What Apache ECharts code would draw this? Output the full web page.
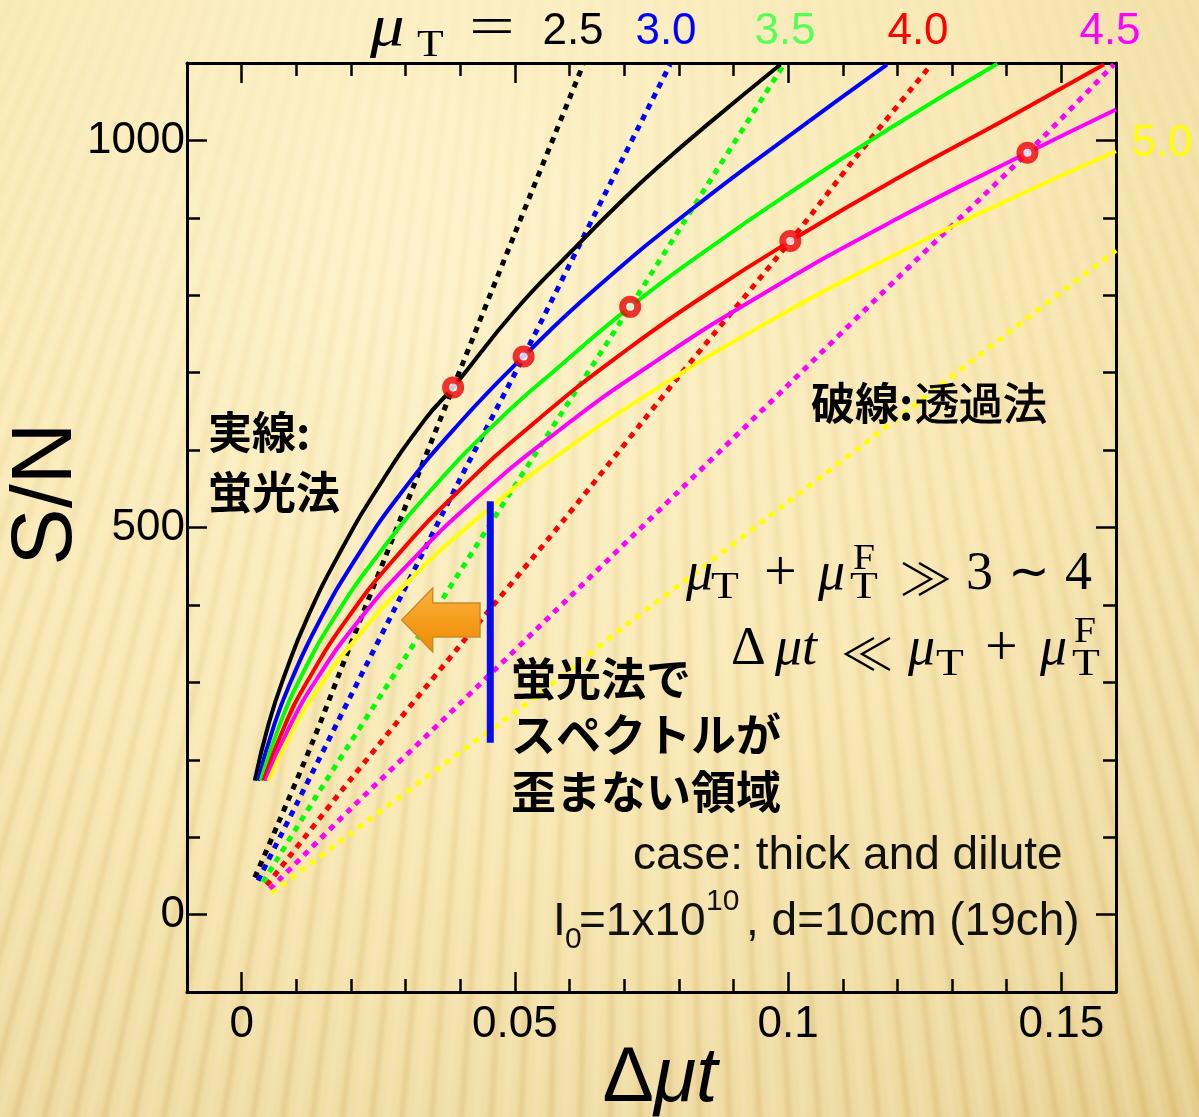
<!DOCTYPE html>
<html><head><meta charset="utf-8">
<script src="https://cdn.jsdelivr.net/npm/echarts@6/dist/echarts.min.js"></script>
<style>html,body{margin:0;padding:0;background:#f6e6b0;} #c{width:1199px;height:1117px;}</style>
</head><body><div id="c"></div>
<script>
// ---------- data ----------
const muLabels = ['2.5', '3.0', '3.5', '4.0', '4.5', '5.0'];
const lineColors = ['#000000', '#0000ff', '#00ff00', '#ff0000', '#ff00ff', '#ffff00'];
const labelColors = ['#000000', '#0000ff', '#55ff55', '#ff0000', '#ff00ff', '#ffff00'];

// fluorescence method (solid lines)
const fluo25X = [0.0024, 0.005, 0.008, 0.012, 0.018, 0.025, 0.0336, 0.0387, 0.05, 0.0601, 0.07, 0.0766, 0.0855, 0.0986];
const fluo25Y = [173, 248, 312, 383, 468, 552, 640, 681, 780, 855, 925, 968, 1022, 1098];
const fluo30X = [0.0030, 0.006, 0.009, 0.014, 0.021, 0.029, 0.04, 0.0516, 0.065, 0.0827, 0.1, 0.1181];
const fluo30Y = [173, 246, 301, 376, 461, 543, 636, 721, 810, 913, 1005, 1098];
const fluo35X = [0.0035, 0.007, 0.011, 0.017, 0.025, 0.035, 0.0468, 0.0583, 0.0711, 0.085, 0.1, 0.1187, 0.1383];
const fluo35Y = [173, 246, 309, 384, 465, 551, 637, 709, 785, 858, 931, 1016, 1099];
const fluo40X = [0.0040, 0.008, 0.012, 0.019, 0.028, 0.04, 0.054, 0.07, 0.085, 0.1004, 0.12, 0.14, 0.1578];
const fluo40Y = [173, 246, 301, 379, 460, 549, 638, 727, 801, 870, 951, 1028, 1098];
const fluo45X = [0.0044, 0.009, 0.014, 0.021, 0.03, 0.043, 0.058, 0.075, 0.095, 0.12, 0.1438, 0.16];
const fluo45Y = [173, 246, 307, 376, 449, 538, 625, 711, 800, 899, 984, 1040];
const fluo50X = [0.0049, 0.009, 0.014, 0.021, 0.03, 0.043, 0.058, 0.075, 0.095, 0.12, 0.14, 0.16];
const fluo50Y = [173, 234, 292, 357, 427, 511, 594, 675, 760, 854, 922, 986];

// transmission method (dotted lines)
const trans25X = [0.0024, 0.0064, 0.0131, 0.0200, 0.0290, 0.0387, 0.0500, 0.0625];
const trans25Y = [48, 113, 225, 350, 510, 681, 880, 1098];
const trans30X = [0.0030, 0.0100, 0.0200, 0.0300, 0.0400, 0.0516, 0.0650, 0.0784];
const trans30Y = [44, 142, 283, 423, 563, 721, 910, 1098];
const trans35X = [0.0039, 0.015, 0.030, 0.045, 0.0583, 0.0711, 0.085, 0.0992];
const trans35Y = [42, 168, 333, 499, 645, 785, 940, 1098];
const trans40X = [0.0046, 0.020, 0.040, 0.0583, 0.080, 0.1004, 0.1126, 0.1262];
const trans40Y = [38, 175, 348, 504, 695, 870, 980, 1098];
const trans45X = [0.0052, 0.020, 0.040, 0.060, 0.080, 0.100, 0.120, 0.1438, 0.1596];
const trans45Y = [33, 137, 273, 410, 547, 684, 822, 984, 1098];
const trans50X = [0.0055, 0.020, 0.040, 0.0528, 0.070, 0.0839, 0.100, 0.120, 0.140, 0.160];
const trans50Y = [28, 105, 210, 276, 372, 446, 533, 641, 750, 858];

// crossing points (markers)
const crossX = [0.0387, 0.0516, 0.0711, 0.1004, 0.1438];
const crossY = [681, 721, 785, 870, 984];

// boundary bar (blue vertical line)
const barX = [0.0455, 0.0455];
const barY = [534, 222];

// tick labels
const xTickLabels = [0, 0.05, 0.1, 0.15];
const yTickLabels = [0, 500, 1000];

// ---------- helpers ----------
const zip = (xs, ys) => xs.map((x, i) => [x, ys[i]]);
const fluoSets = [[fluo25X, fluo25Y], [fluo30X, fluo30Y], [fluo35X, fluo35Y], [fluo40X, fluo40Y], [fluo45X, fluo45Y], [fluo50X, fluo50Y]];
const transSets = [[trans25X, trans25Y], [trans30X, trans30Y], [trans35X, trans35Y], [trans40X, trans40Y], [trans45X, trans45Y], [trans50X, trans50Y]];

const SANS = "'Liberation Sans', Arial, sans-serif";
const SERIF = "'Liberation Serif', 'DejaVu Serif', serif";
const CJK = "'Noto Sans CJK JP', 'Noto Sans', sans-serif";

function txt(x, y, text, o, extra) {
  return Object.assign({
    type: 'text', x: x, y: y, silent: true, z: 100,
    style: Object.assign({
      text: text, fill: '#000', fontFamily: SANS, fontSize: 44,
      align: 'left', verticalAlign: 'middle'
    }, o || {})
  }, extra || {});
}
function chevrons(x0, yc, h, w, gap, dir) {
  // dir = 1 : '>>' ; dir = -1 : '<<'
  const out = [];
  for (let k = 0; k < 2; k++) {
    const xs = x0 + k * gap;
    const pts = dir > 0
      ? [[xs, yc - h / 2], [xs + w, yc], [xs, yc + h / 2]]
      : [[xs + w, yc - h / 2], [xs, yc], [xs + w, yc + h / 2]];
    out.push({ type: 'polyline', silent: true, z: 100, shape: { points: pts },
      style: { stroke: '#000', lineWidth: 2.4, fill: null, lineJoin: 'miter' } });
  }
  return out;
}

function makeBg() {
  const W = 1199, H = 1117;
  const c = document.createElement('canvas');
  c.width = W; c.height = H;
  const g = c.getContext('2d');
  const rg = g.createRadialGradient(430, 230, 40, 430, 230, 1250);
  rg.addColorStop(0, '#fdf3cb');
  rg.addColorStop(0.45, '#f9e9b6');
  rg.addColorStop(0.8, '#eedaa0');
  rg.addColorStop(1, '#e2c783');
  g.fillStyle = rg;
  g.fillRect(0, 0, W, H);
  const fx = 640, fy = -1400;
  g.filter = 'blur(2px)';
  for (let i = -500, k = 0; i < W + 500; i += 15, k++) {
    const lg = g.createLinearGradient(0, 0, 0, H);
    if (k % 2 === 0) {
      lg.addColorStop(0, 'rgba(205,165,80,0.04)');
      lg.addColorStop(1, 'rgba(190,145,55,0.26)');
      g.lineWidth = 5;
    } else {
      lg.addColorStop(0, 'rgba(255,250,225,0.05)');
      lg.addColorStop(1, 'rgba(255,245,215,0.25)');
      g.lineWidth = 4;
    }
    g.strokeStyle = lg;
    g.beginPath();
    g.moveTo(fx, fy);
    g.lineTo(i, H + 20);
    g.stroke();
  }
  g.filter = 'none';
  return c;
}

// ---------- series ----------
const series = [];
transSets.forEach((s, i) => {
  series.push({
    type: 'line', name: 'trans ' + muLabels[i], data: zip(s[0], s[1]),
    showSymbol: false, smooth: 0.3, clip: true, z: 3,
    lineStyle: { color: lineColors[i], width: 5, type: [6, 6], cap: 'butt' }
  });
});
fluoSets.forEach((s, i) => {
  series.push({
    type: 'line', name: 'fluo ' + muLabels[i], data: zip(s[0], s[1]),
    showSymbol: false, smooth: 0.5, clip: true, z: 4,
    lineStyle: { color: lineColors[i], width: 4 }
  });
});
series.push({
  type: 'line', name: 'bar', data: zip(barX, barY), showSymbol: false, z: 5,
  lineStyle: { color: '#0a0aee', width: 7, cap: 'butt' }
});
series.push({
  type: 'scatter', name: 'cross', data: zip(crossX, crossY), z: 10,
  symbol: 'circle', symbolSize: 15,
  itemStyle: { color: '#ffffff', borderColor: '#ee0000', borderWidth: 7 }
});

// ---------- axes ----------
const AX = { color: '#000', width: 3 };
const TK = { color: '#000', width: 2.5 };
function xAx(pos, major) {
  const a = {
    type: 'value', position: pos, min: -0.01, max: 0.16, splitLine: { show: false },
    axisLine: { show: !major, onZero: false, lineStyle: AX },
    axisTick: { show: true, inside: true, length: major ? 20 : 13, lineStyle: TK },
    axisLabel: { show: false }
  };
  if (major) {
    a.axisTick.customValues = xTickLabels;
    a.axisLabel = { show: pos === 'bottom', customValues: xTickLabels, fontSize: 44, fontFamily: SANS, color: '#000', margin: 11,
      formatter: v => String(v) };
  } else {
    a.interval = 0.01;
  }
  return a;
}
function yAx(pos, major) {
  const a = {
    type: 'value', position: pos, min: -100, max: 1100, splitLine: { show: false },
    axisLine: { show: !major, onZero: false, lineStyle: AX },
    axisTick: { show: true, inside: true, length: major ? 20 : 13, lineStyle: TK },
    axisLabel: { show: false }
  };
  if (major) {
    a.axisTick.customValues = yTickLabels;
    a.axisLabel = { show: pos === 'left', customValues: yTickLabels, fontSize: 44, fontFamily: SANS, color: '#000', margin: 2,
      formatter: v => String(v) };
  } else {
    a.interval = 100;
  }
  return a;
}

// ---------- graphics ----------
const graphics = [
  { type: 'image', x: 0, y: 0, z: -100, silent: true, style: { image: makeBg(), x: 0, y: 0, width: 1199, height: 1117 } },
  // orange arrow
  { type: 'polygon', z: 60, silent: true,
    shape: { points: [[401.7, 620], [432.7, 588], [432.7, 603], [480, 603], [480, 637], [432.7, 637], [432.7, 652]] },
    style: { fill: { type: 'linear', x: 0, y: 0, x2: 0, y2: 1, colorStops: [{ offset: 0, color: '#fbb23c' }, { offset: 1, color: '#ee8a00' }] },
      stroke: '#c98a2e', lineWidth: 1.5 } },
  // axis names
  { type: 'text', x: 660, y: 1080, silent: true, z: 100,
    style: { text: '{a|Δ}{b|μt}', align: 'center', verticalAlign: 'middle',
      rich: { a: { fontFamily: SANS, fontSize: 77, fill: '#000' }, b: { fontFamily: SANS, fontSize: 77, fontStyle: 'italic', fill: '#000' } } } },
  { type: 'text', x: 47, y: 494, rotation: Math.PI / 2, silent: true, z: 100,
    style: { text: 'S/N', fontFamily: SANS, fontSize: 86, fill: '#000', align: 'center', verticalAlign: 'middle' } },
  // header
  txt(370, 29, 'μ', { fontFamily: SERIF, fontStyle: 'italic', fontSize: 60 }, { scaleX: 1.15 }),
  txt(417, 46, 'T', { fontFamily: SERIF, fontSize: 38 }, { scaleX: 1.15 }),
  txt(469, 30, '=', { fontFamily: SERIF, fontSize: 56 }, { scaleX: 1.45 }),
  txt(573, 32, muLabels[0], { align: 'center', fill: labelColors[0] }),
  txt(666, 32, muLabels[1], { align: 'center', fill: labelColors[1] }),
  txt(785, 32, muLabels[2], { align: 'center', fill: labelColors[2] }),
  txt(918, 32, muLabels[3], { align: 'center', fill: labelColors[3] }),
  txt(1110, 32, muLabels[4], { align: 'center', fill: labelColors[4] }),
  txt(1162, 144, muLabels[5], { align: 'center', fill: labelColors[5] }),
  // Japanese labels
  txt(208, 432, '実線:', { fontFamily: CJK, fontWeight: 'bold', fontSize: 44 }),
  txt(208, 492, '蛍光法', { fontFamily: CJK, fontWeight: 'bold', fontSize: 44 }),
  txt(811, 403, '破線:', { fontFamily: CJK, fontWeight: 'bold', fontSize: 44 }),
  txt(915, 403, '透過法', { fontFamily: CJK, fontWeight: 'normal', fontSize: 44, stroke: '#000', lineWidth: 0.9 }),
  txt(511, 679, '蛍光法で', { fontFamily: CJK, fontWeight: 'bold', fontSize: 45 }),
  txt(511, 735, 'スペクトルが', { fontFamily: CJK, fontWeight: 'bold', fontSize: 45 }),
  txt(511, 792, '歪まない領域', { fontFamily: CJK, fontWeight: 'bold', fontSize: 45 }),
  // math line 1
  txt(686, 575, 'μ', { fontFamily: SERIF, fontStyle: 'italic', fontSize: 54 }),
  txt(711, 588, 'T', { fontFamily: SERIF, fontSize: 38 }, { scaleX: 1.2 }),
  txt(764, 575, '+', { fontFamily: SERIF, fontSize: 58 }),
  txt(818, 575, 'μ', { fontFamily: SERIF, fontStyle: 'italic', fontSize: 54 }),
  txt(853, 560, 'F', { fontFamily: SERIF, fontSize: 36 }, { scaleX: 1.1 }),
  txt(850, 588, 'T', { fontFamily: SERIF, fontSize: 38 }, { scaleX: 1.2 }),
  txt(966, 575, '3', { fontFamily: SERIF, fontSize: 54 }),
  txt(1008, 575, '∼', { fontFamily: "'DejaVu Sans', sans-serif", fontSize: 50 }),
  txt(1065, 575, '4', { fontFamily: SERIF, fontSize: 54 }),
  // math line 2
  txt(731, 650, 'Δ', { fontFamily: SERIF, fontSize: 54 }),
  txt(775, 650, 'μ', { fontFamily: SERIF, fontStyle: 'italic', fontSize: 54 }),
  txt(802, 650, 't', { fontFamily: SERIF, fontStyle: 'italic', fontSize: 54 }),
  txt(908, 650, 'μ', { fontFamily: SERIF, fontStyle: 'italic', fontSize: 54 }),
  txt(936, 665, 'T', { fontFamily: SERIF, fontSize: 38 }, { scaleX: 1.2 }),
  txt(985, 650, '+', { fontFamily: SERIF, fontSize: 58 }),
  txt(1040, 650, 'μ', { fontFamily: SERIF, fontStyle: 'italic', fontSize: 54 }),
  txt(1074, 633, 'F', { fontFamily: SERIF, fontSize: 36 }, { scaleX: 1.1 }),
  txt(1072, 665, 'T', { fontFamily: SERIF, fontSize: 38 }, { scaleX: 1.2 }),
  // case text
  txt(633, 856, 'case: thick and dilute', { fontSize: 46, fill: '#111' }),
  txt(553, 922, 'I', { fontSize: 46, fill: '#111' }),
  txt(565, 940, '0', { fontSize: 30, fill: '#111' }),
  txt(579, 922, '=1x10', { fontSize: 46, fill: '#111' }),
  txt(706, 902, '10', { fontSize: 30, fill: '#111' }),
  txt(746, 922, ', d=10cm (19ch)', { fontSize: 46, fill: '#111' })
].concat(chevrons(903, 579, 32, 28, 16, 1), chevrons(846, 654, 32, 28, 16, -1));

const chart = echarts.init(document.getElementById('c'), null, { renderer: 'canvas' });
chart.setOption({
  animation: false,
  backgroundColor: 'transparent',
  grid: { left: 187, top: 63, right: 83, bottom: 125, containLabel: false },
  xAxis: [xAx('bottom', false), xAx('bottom', true), xAx('top', false), xAx('top', true)],
  yAxis: [yAx('left', false), yAx('left', true), yAx('right', false), yAx('right', true)],
  series: series,
  graphic: graphics
});
</script>
</body></html>
